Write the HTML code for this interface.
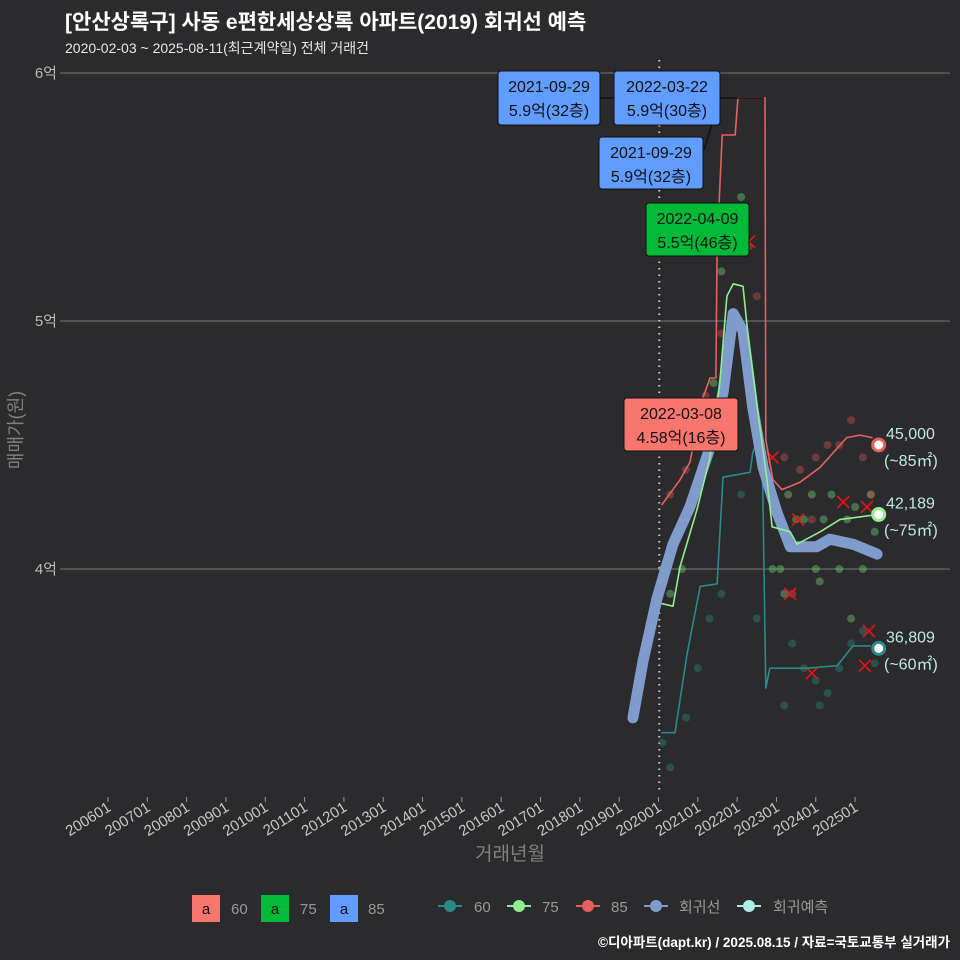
<!DOCTYPE html>
<html><head><meta charset="utf-8">
<style>
html,body{margin:0;background:#2b2b2d;overflow:hidden;width:960px;height:960px;}
svg{display:block;}
svg text{font-family:"Liberation Sans","Noto Sans CJK KR",sans-serif;}
</style></head>
<body>
<svg id="chart" width="960" height="960" viewBox="0 0 960 960" xmlns="http://www.w3.org/2000/svg">
<rect width="960" height="960" fill="#2b2b2d"/>
<text x="65" y="29" fill="#ffffff" font-size="21" font-weight="bold">[안산상록구] 사동 e편한세상상록 아파트(2019) 회귀선 예측</text>
<text x="65" y="53" fill="#e6e6e6" font-size="14">2020-02-03 ~ 2025-08-11(최근계약일) 전체 거래건</text>
<text transform="translate(22,430) rotate(-90)" text-anchor="middle" fill="#808080" font-size="18">매매가(원)</text>
<text x="510" y="860" text-anchor="middle" fill="#808080" font-size="19">거래년월</text>
<g id="grid"></g><g id="dots"></g><g id="lines"></g><g id="ann"></g><g id="xaxis"></g>
<g id="legend">
 <rect x="192" y="895" width="28" height="27" fill="#F8766D"/>
 <text x="206" y="914" text-anchor="middle" font-size="15" fill="#111">a</text>
 <text x="231" y="914" font-size="15" fill="#999">60</text>
 <rect x="261" y="895" width="28" height="27" fill="#00BA38"/>
 <text x="275" y="914" text-anchor="middle" font-size="15" fill="#111">a</text>
 <text x="300" y="914" font-size="15" fill="#999">75</text>
 <rect x="330" y="895" width="28" height="27" fill="#619CFF"/>
 <text x="344" y="914" text-anchor="middle" font-size="15" fill="#111">a</text>
 <text x="368" y="914" font-size="15" fill="#999">85</text>
 <g><line x1="438" x2="462" y1="906" y2="906" stroke="#2a8a8a" stroke-width="2"/><circle cx="450" cy="906" r="6" fill="#2a8a8a"/><text x="474" y="912" font-size="15" fill="#999">60</text></g>
 <g><line x1="507" x2="531" y1="906" y2="906" stroke="#90ee90" stroke-width="2"/><circle cx="519" cy="906" r="6" fill="#90ee90"/><text x="542" y="912" font-size="15" fill="#999">75</text></g>
 <g><line x1="576" x2="600" y1="906" y2="906" stroke="#e8605e" stroke-width="2"/><circle cx="588" cy="906" r="6" fill="#e8605e"/><text x="611" y="912" font-size="15" fill="#999">85</text></g>
 <g><line x1="644" x2="668" y1="906" y2="906" stroke="#7f9ccc" stroke-width="2"/><circle cx="656" cy="906" r="6" fill="#7f9ccc"/><text x="679" y="912" font-size="15" fill="#999">회귀선</text></g>
 <g><line x1="737" x2="761" y1="906" y2="906" stroke="#aaeee6" stroke-width="2"/><circle cx="749" cy="906" r="6" fill="#aaeee6"/><text x="773" y="912" font-size="15" fill="#999">회귀예측</text></g>
</g>
<text x="950" y="947" text-anchor="end" font-size="13.5" font-weight="bold" fill="#ffffff">©디아파트(dapt.kr) / 2025.08.15 / 자료=국토교통부 실거래가</text>
</svg>
<script>
const yTicks=[4,5,6];
const yTickLabels=['4억','5억','6억'];
const xTickYears=[2006,2007,2008,2009,2010,2011,2012,2013,2014,2015,2016,2017,2018,2019,2020,2021,2022,2023,2024,2025];
const xTickLabels=['200601','200701','200801','200901','201001','201101','201201','201301','201401','201501','201601','201701','201801','201901','202001','202101','202201','202301','202401','202501'];
const regT=[2019.35,2019.61,2019.96,2020.37,2020.80,2021.31,2021.64,2021.90,2022.15,2022.40,2022.66,2023.01,2023.35,2024.03,2024.36,2024.95,2025.56];
const regV=[3.40,3.63,3.88,4.10,4.25,4.49,4.71,5.03,4.96,4.65,4.41,4.23,4.09,4.09,4.12,4.10,4.06];
const l75T=[2020.09,2020.37,2020.55,2020.98,2021.31,2021.56,2021.74,2021.90,2022.15,2022.28,2022.58,2022.76,2022.89,2023.35,2023.52,2024.11,2024.62,2025.12,2025.58];
const l75V=[3.86,3.85,4.01,4.24,4.45,4.75,5.10,5.15,5.14,4.94,4.57,4.36,4.17,4.15,4.10,4.15,4.20,4.21,4.22];
const l85T=[2020.09,2020.55,2020.80,2021.13,2021.31,2021.46,2021.49,2021.62,2021.95,2022.02,2022.71,2022.73,2022.91,2023.14,2023.60,2024.11,2024.79,2025.12,2025.43];
const l85V=[4.26,4.36,4.43,4.69,4.77,4.77,5.30,5.75,5.75,5.90,5.90,4.52,4.36,4.32,4.35,4.41,4.53,4.54,4.53];
const l60T=[2020.09,2020.42,2020.73,2021.06,2021.49,2021.64,2022.33,2022.40,2022.63,2022.73,2022.83,2023.78,2024.54,2024.95,2025.38];
const l60V=[3.34,3.34,3.66,3.93,3.94,4.37,4.39,4.47,4.55,3.52,3.60,3.60,3.61,3.69,3.69];
const d75T=[2020.1,2020.3,2020.6,2020.9,2021.2,2021.4,2021.6,2021.8,2022.0,2022.1,2022.2,2022.6,2022.9,2023.1,2023.3,2023.5,2023.7,2023.9,2024.0,2024.2,2024.4,2024.6,2024.8,2025.0,2025.2,2025.4,2025.5,2023.2,2024.1,2024.9];
const d75V=[4.0,3.9,4.0,4.3,4.5,4.75,5.2,5.3,5.42,5.5,5.38,4.5,4.0,4.0,4.3,4.2,4.2,4.3,4.0,4.2,4.3,4.0,4.2,4.25,4.0,4.3,4.15,3.9,3.95,3.8];
const d85T=[2020.3,2020.7,2021.2,2021.6,2022.3,2022.5,2023.2,2023.6,2024.0,2024.3,2024.6,2024.9,2025.2,2025.4,2023.4,2023.9];
const d85V=[4.3,4.4,4.7,4.95,5.3,5.1,4.45,4.4,4.45,4.5,4.5,4.6,4.45,4.3,3.9,4.2];
const d60T=[2020.1,2020.3,2020.7,2021.0,2021.3,2021.6,2022.1,2022.5,2023.4,2023.7,2024.0,2024.3,2024.6,2024.9,2025.2,2025.5,2023.2,2024.1];
const d60V=[3.3,3.2,3.4,3.6,3.8,3.9,4.3,3.8,3.7,3.6,3.55,3.5,3.6,3.7,3.75,3.62,3.45,3.45];
const xT=[2022.3,2022.9,2023.35,2023.55,2024.7,2025.3,2025.35,2025.25,2023.9];
const xV=[5.32,4.45,3.9,4.2,4.27,4.25,3.75,3.61,3.58];
const endT=[2025.6,2025.6,2025.6];
const endV=[4.50,4.22,3.68];
const endLabels=['45,000','42,189','36,809'];
const endAreas=['(~85㎡)','(~75㎡)','(~60㎡)'];
const endColors=['#e8605e','#90ee90','#2a8a8a'];

const NS='http://www.w3.org/2000/svg';
const X=t=>108+(t-2006)*39.32;
const Y=v=>569-(v-4)*248;
function mk(tag,attrs,parent){const e=document.createElementNS(NS,tag);for(const k in attrs)e.setAttribute(k,attrs[k]);parent.appendChild(e);return e;}
const grid=document.getElementById('grid');
yTicks.forEach((v,i)=>{
  const l=mk('line',{x1:60,x2:950,y1:Y(v),y2:Y(v),stroke:'#777','stroke-width':1},grid);
  
  
  const t=mk('text',{x:57,y:Y(v)+5,'text-anchor':'end','font-size':15,fill:'#bbb'},grid);
  t.textContent=yTickLabels[i];
  
  
});
const dl=mk('line',{x1:X(2020.02),x2:X(2020.02),y1:60,y2:790,stroke:'#ccc','stroke-width':2,'stroke-dasharray':'1.5,5'},grid);


const xa=document.getElementById('xaxis');
xTickYears.forEach((y,i)=>{
  const x=X(y);
  mk('line',{x1:x,x2:x,y1:797,y2:802,stroke:'#999'},xa);
  const t=mk('text',{x:x+4,y:810,'text-anchor':'end','font-size':15,fill:'#c8c8c8',transform:`rotate(-32 ${x+4} 810)`},xa);
  t.textContent=xTickLabels[i];
  
  
});
const dots=document.getElementById('dots');
function scat(T,V,col,name){T.forEach((t,i)=>{const c=mk('circle',{cx:X(t),cy:Y(V[i]),r:4,fill:col,'fill-opacity':0.45},dots);
  
  });}
scat(d60T,d60V,'#2a8070','dot-60');
scat(d75T,d75V,'#6cc86c','dot-75');
scat(d85T,d85V,'#c05050','dot-85');
xT.forEach((t,i)=>{const g=mk('path',{d:`M${X(t)-6},${Y(xV[i])-6}L${X(t)+6},${Y(xV[i])+6}M${X(t)+6},${Y(xV[i])-6}L${X(t)-6},${Y(xV[i])+6}`,stroke:'#ee1111','stroke-width':1.6},dots);
  
  });
const lines=document.getElementById('lines');
function stepPath(T,V){return T.map((t,i)=>(i?'L':'M')+X(t).toFixed(1)+','+Y(V[i]).toFixed(1)).join('');}
function ln(T,V,col,w,name){const p=mk('path',{d:stepPath(T,V),fill:'none',stroke:col,'stroke-width':w,'stroke-linejoin':'round','stroke-linecap':'round'},lines);
  
  }
ln(l60T,l60V,'#2a8a8a',1.6,'line-60');
ln(l85T,l85V,'#e8605e',1.6,'line-85');
ln(regT,regV,'#7f9ccc',11,'regression-line');
ln(l75T,l75V,'#90ee90',1.6,'line-75');
endT.forEach((t,i)=>{
  const c=mk('circle',{cx:X(t),cy:Y(endV[i]),r:6,fill:'#fff',stroke:endColors[i],'stroke-width':3},lines);
  
  
  const a=mk('text',{x:886,y:Y(endV[i])-6,'font-size':16,fill:'#bfe8e3'},lines);a.textContent=endLabels[i];
  
  
  const b=mk('text',{x:884,y:Y(endV[i])+21,'font-size':16,fill:'#bfe8e3'},lines);b.textContent=endAreas[i];
  
  
});
const ann=document.getElementById('ann');
mk('path',{d:'M600,98L737,98L764,98M704,150L720,98',stroke:'#111','stroke-width':1.5,fill:'none'},ann);
const boxes=[[498,71,102,54,'#619CFF','2021-09-29','5.9억(32층)'],[614,71,106,54,'#619CFF','2022-03-22','5.9억(30층)'],[599,137,104,52,'#619CFF','2021-09-29','5.9억(32층)'],[646,203,103,53,'#00BA38','2022-04-09','5.5억(46층)'],[624,398,114,53,'#F8766D','2022-03-08','4.58억(16층)']];
boxes.forEach(b=>{
  const g=mk('g',{},ann);
  
  
  mk('rect',{x:b[0],y:b[1],width:b[2],height:b[3],rx:3,fill:b[4],stroke:'#111','stroke-width':1},g);
  const t1=mk('text',{x:b[0]+b[2]/2,y:b[1]+21,'text-anchor':'middle','font-size':16,fill:'#111'},g);t1.textContent=b[5];
  const t2=mk('text',{x:b[0]+b[2]/2,y:b[1]+45,'text-anchor':'middle','font-size':16,fill:'#111'},g);t2.textContent=b[6];
});
</script>
</body></html>
